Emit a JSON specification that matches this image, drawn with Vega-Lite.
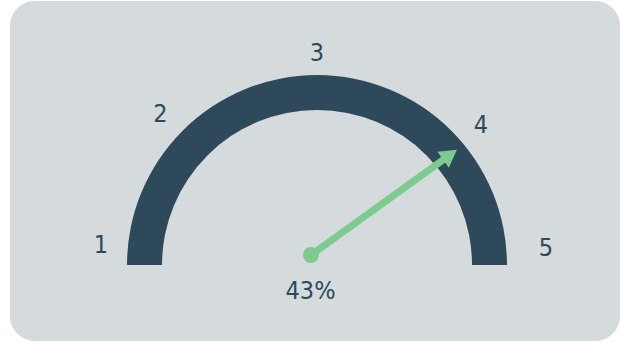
{
  "$schema": "https://vega.github.io/schema/vega-lite/v6.json",
  "width": 621,
  "height": 343,
  "autosize": {"type": "fit", "contains": "padding"},
  "padding": {"left": 10, "top": 1, "right": 1, "bottom": 2},
  "background": "#ffffff",
  "config": {"view": {"fill": "#d5dadd", "cornerRadius": 25, "stroke": null}},
  "layer": [
    {
      "data": {"values": [{"cx": 0, "cy": 0, "from": 0, "to": 100}]},
      "mark": {"type": "arc", "radius": 190, "radius2": 155, "color": "#2e4a5a"},
      "encoding": {
        "x": {"field": "cx", "type": "quantitative", "scale": {"domain": [-1.6158, 1.5947], "nice": false, "zero": false}, "axis": null},
        "y": {"field": "cy", "type": "quantitative", "scale": {"domain": [-0.4, 1.3895], "nice": false, "zero": false}, "axis": null},
        "theta": {"field": "from", "type": "quantitative", "scale": {"domain": [0, 100], "range": [-1.5708, 1.5708]}},
        "theta2": {"field": "to"}
      }
    },
    {
      "data": {"values": [{"x": -0.0316, "y": 0.0526, "o": 0}, {"x": 0.700, "y": 0.580, "o": 1}]},
      "mark": {"type": "line", "strokeWidth": 7, "color": "#7ccb8f"},
      "encoding": {
        "x": {"field": "x", "type": "quantitative"},
        "y": {"field": "y", "type": "quantitative"},
        "order": {"field": "o"}
      }
    },
    {
      "data": {"values": [{"x": 0.700, "y": 0.580}]},
      "mark": {"type": "point", "shape": "triangle-up", "filled": true, "size": 380, "angle": 54.2, "color": "#7ccb8f", "opacity": 1},
      "encoding": {
        "x": {"field": "x", "type": "quantitative"},
        "y": {"field": "y", "type": "quantitative"}
      }
    },
    {
      "data": {"values": [{"x": -0.0316, "y": 0.0526}]},
      "mark": {"type": "circle", "size": 256, "color": "#7ccb8f", "opacity": 1},
      "encoding": {
        "x": {"field": "x", "type": "quantitative"},
        "y": {"field": "y", "type": "quantitative"}
      }
    },
    {
      "data": {"values": [
        {"label": "1", "x": -1.137, "y": 0.105},
        {"label": "2", "x": -0.824, "y": 0.795},
        {"label": "3", "x": 0.0, "y": 1.116},
        {"label": "4", "x": 0.863, "y": 0.737},
        {"label": "5", "x": 1.205, "y": 0.089},
        {"label": "43%", "x": -0.034, "y": -0.137}
      ]},
      "mark": {"type": "text", "font": "DejaVu Sans Condensed", "fontSize": 25, "fontWeight": 200, "color": "#2e4a5a", "align": "center", "baseline": "middle"},
      "encoding": {
        "x": {"field": "x", "type": "quantitative"},
        "y": {"field": "y", "type": "quantitative"},
        "text": {"field": "label"}
      }
    }
  ]
}
